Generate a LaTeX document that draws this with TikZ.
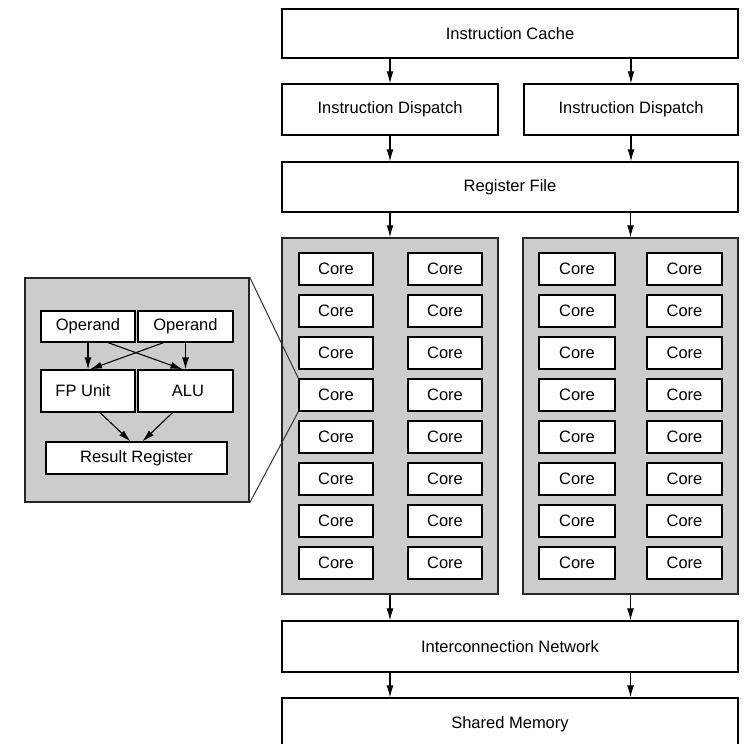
\documentclass[tikz,border=0pt]{standalone}
\usepackage{fontspec}
\setmainfont{Liberation Sans}
\usetikzlibrary{arrows.meta}
\definecolor{panelgray}{HTML}{CCCCCC}
\tikzset{
  blk/.style={draw=black, line width=1.3pt, fill=white, inner sep=0pt,
    font=\fontsize{16.5}{19}\selectfont, anchor=center},
  panel/.style={draw=black!85, line width=1.5pt, fill=panelgray, inner sep=0pt},
  arr/.style={draw=black, line width=1.1pt, -{Latex[length=12pt,width=7pt]}},
  zoomline/.style={draw=black!80, line width=1pt}
}
\begin{document}
\begin{tikzpicture}[x=1pt, y=-1pt]
  \useasboundingbox (0,0) rectangle (744,744);
  \fill[white] (0,0) rectangle (744,744);
  \clip (0,0) rectangle (744,744);

  % top of the pipeline
  \node[blk, minimum width=456pt, minimum height=49pt] (cache) at (510,33.5) {Instruction Cache};
  \node[blk, minimum width=216pt, minimum height=51pt] (dispL) at (390,109.5) {Instruction Dispatch};
  \node[blk, minimum width=214pt, minimum height=51pt] (dispR) at (631,109.5) {Instruction Dispatch};
  \node[blk, minimum width=456pt, minimum height=50pt] (regs) at (510,187) {Register File};

  % core panels
  \node[panel, minimum width=216pt, minimum height=356pt] (panelL) at (390,416) {};
  \node[panel, minimum width=215pt, minimum height=356pt] (panelR) at (630.5,416) {};
  \foreach \i in {1,...,8} {
    \pgfmathsetmacro{\yc}{269+42*(\i-1)}
    \node[blk, minimum width=74pt, minimum height=32pt] (cLa\i) at (336,\yc) {Core};
    \node[blk, minimum width=74pt, minimum height=32pt] (cLb\i) at (445,\yc) {Core};
    \node[blk, minimum width=76pt, minimum height=32pt] (cRa\i) at (577,\yc) {Core};
    \node[blk, minimum width=75pt, minimum height=32pt] (cRb\i) at (684.5,\yc) {Core};
  }

  % bottom of the pipeline
  \node[blk, minimum width=456pt, minimum height=51pt] (net) at (510,646.5) {Interconnection Network};
  \node[blk, minimum width=456pt, minimum height=52pt] (mem) at (510,724) {Shared Memory};

  % vertical flow
  \draw[arr] (cache.south -| dispL) -- (dispL.north);
  \draw[arr] (cache.south -| dispR) -- (dispR.north);
  \draw[arr] (dispL.south) -- (regs.north -| dispL);
  \draw[arr] (dispR.south) -- (regs.north -| dispR);
  \draw[arr] (regs.south -| panelL) -- (panelL.north);
  \draw[arr] (regs.south -| panelR) -- (panelR.north);
  \draw[arr] (panelL.south) -- (net.north -| panelL);
  \draw[arr] (panelR.south) -- (net.north -| panelR);
  \draw[arr] (net.south -| panelL) -- (mem.north -| panelL);
  \draw[arr] (net.south -| panelR) -- (mem.north -| panelR);

  % detail of one core
  \node[panel, minimum width=224pt, minimum height=224pt] (inset) at (137,390) {};
  \node[blk, minimum width=94pt, minimum height=31pt] (opL) at (88,326.5) {Operand};
  \node[blk, minimum width=95pt, minimum height=31pt] (opR) at (185.5,326.5) {Operand};
  \node[blk, minimum width=94pt, minimum height=42pt] (fpu) at (88,391) {\hspace*{-10pt}FP Unit};
  \node[blk, minimum width=95pt, minimum height=42pt] (alu) at (185.5,391) {\hspace*{5pt}ALU};
  \node[blk, minimum width=181pt, minimum height=32pt] (res) at (136.5,458) {Result Register};

  \draw[arr] (opL.south) -- (fpu.north);
  \draw[arr] (opR.south) -- (alu.north);
  \draw[arr] ([xshift=20pt]opL.south) -- ([xshift=-3pt]alu.north);
  \draw[arr] ([xshift=-22pt]opR.south) -- ([xshift=2pt]fpu.north);
  \draw[arr] ([xshift=12pt]fpu.south) -- ([xshift=-6pt]res.north);
  \draw[arr] ([xshift=-13pt]alu.south) -- ([xshift=6pt]res.north);

  % magnification lines to the highlighted core
  \draw[zoomline] (inset.north east) -- (cLa4.north west);
  \draw[zoomline] (inset.south east) -- (cLa4.south west);
\end{tikzpicture}
\end{document}
